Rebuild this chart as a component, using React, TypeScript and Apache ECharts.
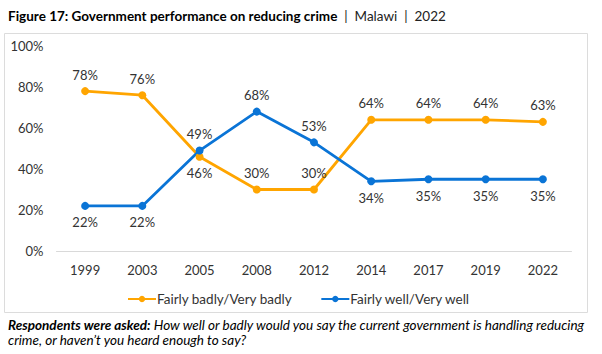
import React, { useEffect, useRef } from "react";
import * as echarts from "echarts";

const years = ["1999", "2003", "2005", "2008", "2012", "2014", "2017", "2019", "2022"];
const badly = [78, 76, 46, 30, 30, 64, 64, 64, 63];
const well = [22, 22, 49, 68, 53, 34, 35, 35, 35];
const badlyLabelPos = ["top", "top", "bottom", "top", "top", "top", "top", "top", "top"];
const wellLabelPos = ["bottom", "bottom", "top", "top", "top", "bottom", "bottom", "bottom", "bottom"];
const yTicks = [0, 20, 40, 60, 80, 100];

const ORANGE = "#FFA500";
const BLUE = "#0A74D6";
const FONT = "Lato";

export default function App() {
  const ref = useRef<HTMLDivElement>(null);
  useEffect(() => {
    document.body.style.margin = "0";
    const chart = echarts.init(ref.current!, null, { renderer: "svg" });
    const mk = (vals: number[], pos: string[]) =>
      vals.map((v, i) => ({ value: v, label: { position: pos[i] } }));
    chart.setOption({
      animation: false,
      backgroundColor: "#fff",
      textStyle: { fontFamily: FONT },
      graphic: [
        {
          type: "rect",
          shape: { x: 4.5, y: 33.5, width: 583, height: 279 },
          style: { fill: "none", stroke: "#dcdcdc", lineWidth: 1 },
          silent: true,
        },
        {
          type: "text",
          x: 8,
          y: 9,
          style: {
            text: "{b|Figure 17: Government performance on reducing crime}{n|  |  Malawi  |  2022}",
            rich: {
              b: { fontFamily: FONT, fontWeight: "bold", fontSize: 13.5, fill: "#000" },
              n: { fontFamily: FONT, fontSize: 13.5, fill: "#222" },
            },
          },
        },
        {
          type: "text",
          x: 8,
          y: 317,
          style: {
            text: "{b|Respondents were asked:}{n| How well or badly would you say the current government is handling reducing}\n{n|crime, or haven’t you heard enough to say?}",
            lineHeight: 15,
            rich: {
              b: { fontFamily: FONT, fontWeight: "bold", fontStyle: "italic", fontSize: 13.5, fill: "#000", lineHeight: 15 },
              n: { fontFamily: FONT, fontStyle: "italic", fontSize: 13.5, fill: "#000", lineHeight: 15 },
            },
          },
        },
      ],
      grid: { left: 56.5, right: 30.5, top: 46, bottom: 103 },
      legend: {
        left: 122,
        top: 287,
        itemWidth: 28,
        itemHeight: 8,
        itemGap: 28,
        textStyle: { fontFamily: FONT, fontSize: 13.5, color: "#333", padding: [0, 0, 0, -4] },
        data: ["Fairly badly/Very badly", "Fairly well/Very well"],
      },
      xAxis: {
        type: "category",
        data: years,
        boundaryGap: true,
        axisLine: { lineStyle: { color: "#d9d9d9" } },
        axisTick: { show: false },
        axisLabel: { color: "#333", fontSize: 13, margin: 12, fontFamily: FONT },
      },
      yAxis: {
        type: "value",
        min: 0,
        max: 100,
        interval: 20,
        splitLine: { show: false },
        axisLine: { show: false },
        axisTick: { show: false },
        axisLabel: {
          color: "#333",
          fontSize: 13,
          margin: 13,
          fontFamily: FONT,
          formatter: (v: number) => (yTicks.includes(v) ? v + "%" : ""),
        },
      },
      series: [
        {
          name: "Fairly badly/Very badly",
          type: "line",
          data: mk(badly, badlyLabelPos),
          color: ORANGE,
          symbol: "circle",
          symbolSize: 8,
          lineStyle: { width: 2.8, color: ORANGE },
          itemStyle: { color: ORANGE },
          label: { show: true, formatter: "{c}%", color: "#333", fontSize: 13, distance: 6, fontFamily: FONT },
        },
        {
          name: "Fairly well/Very well",
          type: "line",
          data: mk(well, wellLabelPos),
          color: BLUE,
          symbol: "circle",
          symbolSize: 8,
          lineStyle: { width: 2.8, color: BLUE },
          itemStyle: { color: BLUE },
          label: { show: true, formatter: "{c}%", color: "#333", fontSize: 13, distance: 6, fontFamily: FONT },
        },
      ],
    });
    return () => chart.dispose();
  }, []);
  return <div ref={ref} style={{ width: 602, height: 354 }} />;
}
